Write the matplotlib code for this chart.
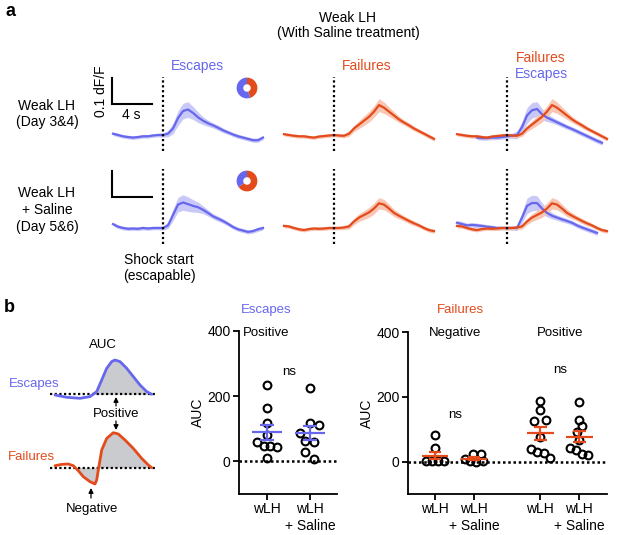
import matplotlib
matplotlib.use("Agg")
import matplotlib.pyplot as plt
import numpy as np

W, H = 617, 535
BLUE = "#6767EE"
BLUE_FILL = "#C9C9F8"
ORANGE = "#E34B1C"
ORANGE_FILL = "#F8C6B2"
GRAY = "#C9CBCE"

# ---- panel a: mean dF/F traces (time in s relative to shock start)
TIME = np.arange(-5, 10.5, 0.5)
nan = np.nan

esc_d34 = [0.005, 0.0, -0.005, -0.008, -0.01, -0.008, -0.005, -0.005, -0.002, 0.0,
           0.0, 0.005, 0.025, 0.065, 0.092, 0.098, 0.085, 0.068, 0.055, 0.045,
           0.037, 0.028, 0.018, 0.01, 0.002, -0.005, -0.01, -0.015, -0.02, -0.02, -0.01]
esc_d34_sem = [0.007, 0.007, 0.007, 0.007, 0.007, 0.007, 0.007, 0.007, 0.007, 0.007,
               0.008, 0.012, 0.02, 0.028, 0.03, 0.03, 0.025, 0.02, 0.015, 0.012,
               0.01, 0.01, 0.009, 0.008, 0.008, 0.008, 0.008, 0.008, 0.008, 0.008, 0.008]
fail_d34 = [0.003, 0.0, -0.003, -0.005, -0.005, -0.008, -0.01, -0.006, -0.004, -0.002,
            0.0, -0.002, -0.003, 0.005, 0.025, 0.04, 0.055, 0.07, 0.09, 0.115,
            0.105, 0.09, 0.075, 0.06, 0.048, 0.037, 0.025, 0.015, 0.005, -0.005, -0.015]
fail_d34_sem = [0.007, 0.007, 0.007, 0.007, 0.007, 0.007, 0.007, 0.007, 0.007, 0.007,
                0.007, 0.007, 0.008, 0.01, 0.012, 0.015, 0.018, 0.02, 0.022, 0.025,
                0.022, 0.018, 0.015, 0.012, 0.01, 0.01, 0.009, 0.008, 0.008, 0.008, 0.008]
esc_d34_overlay = [nan, nan, nan, nan, -0.01, -0.012, -0.012, -0.01, -0.01, -0.008,
                   -0.005, -0.003, 0.0, 0.03, 0.075, 0.095, 0.1, 0.08, 0.067, 0.058,
                   0.049, 0.04, 0.031, 0.023, 0.014, 0.005, -0.004, -0.013, -0.022, -0.03, nan]
esc_d34_overlay_sem = [nan, nan, nan, nan, 0.008, 0.008, 0.008, 0.008, 0.008, 0.008,
                       0.008, 0.01, 0.015, 0.022, 0.03, 0.03, 0.028, 0.022, 0.015, 0.012,
                       0.01, 0.01, 0.009, 0.009, 0.009, 0.009, 0.009, 0.009, 0.009, 0.009, nan]

esc_d56 = [0.015, 0.005, 0.0, -0.003, -0.002, -0.003, 0.0, -0.002, 0.0, 0.0,
           0.0, 0.01, 0.05, 0.09, 0.098, 0.092, 0.085, 0.08, 0.07, 0.058,
           0.045, 0.036, 0.027, 0.016, 0.004, -0.005, -0.01, -0.015, -0.012, -0.005, 0.0]
esc_d56_sem = [0.007, 0.007, 0.007, 0.007, 0.007, 0.007, 0.007, 0.007, 0.007, 0.007,
               0.008, 0.012, 0.022, 0.028, 0.03, 0.028, 0.024, 0.02, 0.015, 0.012,
               0.01, 0.01, 0.009, 0.008, 0.008, 0.008, 0.008, 0.008, 0.008, 0.008, 0.008]
fail_d56 = [0.008, 0.006, 0.0, -0.005, -0.008, -0.004, -0.002, -0.003, -0.002, 0.0,
            0.0, 0.0, 0.002, 0.006, 0.025, 0.04, 0.05, 0.06, 0.075, 0.095,
            0.09, 0.075, 0.058, 0.047, 0.037, 0.027, 0.018, 0.01, 0.0, -0.008, -0.012]
fail_d56_sem = [0.007, 0.007, 0.007, 0.007, 0.007, 0.007, 0.007, 0.007, 0.007, 0.007,
                0.007, 0.007, 0.008, 0.01, 0.012, 0.015, 0.017, 0.019, 0.021, 0.022,
                0.02, 0.017, 0.014, 0.012, 0.01, 0.01, 0.009, 0.008, 0.008, 0.008, 0.008]
esc_d56_overlay = [0.02, 0.015, 0.01, 0.012, 0.01, 0.008, 0.005, 0.003, 0.0, 0.0,
                   0.0, 0.0, 0.0, 0.04, 0.085, 0.096, 0.096, 0.075, 0.058, 0.047,
                   0.04, 0.033, 0.027, 0.02, 0.01, 0.002, -0.005, -0.012, -0.019, nan, nan]
esc_d56_overlay_sem = [0.01, 0.01, 0.009, 0.009, 0.009, 0.008, 0.008, 0.008, 0.008, 0.008,
                       0.008, 0.008, 0.01, 0.02, 0.03, 0.03, 0.028, 0.022, 0.015, 0.012,
                       0.01, 0.01, 0.009, 0.009, 0.009, 0.009, 0.009, 0.009, 0.009, nan, nan]

# fraction of trials [failures, escapes]
trial_split_d34 = [0.45, 0.55]
trial_split_d56 = [0.65, 0.35]

# ---- panel b: schematic AUC curves
sketch_t_esc = [0, 1.17, 2.5, 3.5, 4.17, 4.67, 5.17, 5.67, 6.0, 6.5, 7.17, 7.83, 8.5, 9.17, 9.67]
sketch_esc = [-0.07, -0.3, -0.4, -0.23, 0.27, 1.43, 2.6, 3.27, 3.43, 3.27, 2.6, 1.77, 0.93, 0.27, 0.0]
sketch_t_fail = [0, 0.67, 1.33, 1.83, 2.33, 2.83, 3.5, 4.0, 4.17, 4.33, 4.67, 5.17, 5.83,
                 6.33, 7.0, 7.83, 8.67, 9.33, 9.67]
sketch_fail = [0.2, 0.33, 0.37, 0.2, -0.3, -0.9, -1.4, -1.63, -1.23, -0.23, 1.77, 2.93, 3.5,
               3.37, 2.77, 1.93, 0.93, 0.27, 0.0]

# ---- panel b: AUC per animal
group_labels = ["wLH", "wLH\n+ Saline"]
esc_wlh = [233, 163, 118, 80, 59, 46, 46, 44, 11]
esc_wlh_dx = [0, 0, 0, 0, -0.23, -0.08, 0.08, 0.23, 0]
esc_sal = [225, 118, 112, 88, 62, 58, 29, 8]
esc_sal_dx = [0, 0, 0.22, -0.22, -0.12, 0.1, -0.12, 0.1]
esc_mean = [90, 88]
esc_sem = [23, 21]

neg_wlh = [83, 42, 3, 2, 3, 2]
neg_wlh_dx = [0, 0, -0.24, -0.08, 0.08, 0.24]
neg_sal = [8, 23, 23, 1, 0, 1]
neg_sal_dx = [-0.22, -0.03, 0.17, -0.11, 0.06, 0.23]
neg_mean = [18, 9]
neg_sem = [11, 5]

pos_wlh = [187, 158, 125, 128, 77, 38, 31, 26, 10]
pos_wlh_dx = [0, 0, -0.15, 0.15, 0, -0.24, -0.09, 0.09, 0.24]
pos_sal = [184, 128, 109, 92, 66, 41, 36, 23, 20]
pos_sal_dx = [0, 0, 0.06, -0.07, 0, -0.24, -0.09, 0.06, 0.23]
pos_mean = [87, 77]
pos_sem = [20, 18]


def box(left, top, right, bottom):
    return [left / W, 1 - bottom / H, (right - left) / W, (bottom - top) / H]


def put(fig, x, y, s, **kw):
    kw.setdefault("fontsize", 10)
    fig.text(x / W, 1 - y / H, s, ha="center", va="center", **kw)


def arrow(fig, x, y_from, y_to):
    fig.add_artist(matplotlib.patches.FancyArrowPatch(
        (x / W, 1 - y_from / H), (x / W, 1 - y_to / H), transform=fig.transFigure,
        arrowstyle="-|>", mutation_scale=7, lw=0.9, color="k", shrinkA=0, shrinkB=0))


def trace(ax, mean, sem, color, fill):
    m = np.array(mean)
    s = np.array(sem)
    ax.fill_between(TIME, m - s, m + s, color=fill, lw=0)
    ax.plot(TIME, m, color=color, lw=1.6)


def dots(ax, pos, values, dx, mean, sem, color):
    ax.plot(pos + np.array(dx), values, "o", mfc="none", mec="k", ms=5.6, mew=1.5, zorder=3)
    ax.hlines(mean, pos - 0.34, pos + 0.34, color=color, lw=1.6, zorder=4)
    ax.vlines(pos, mean - sem, mean + sem, color=color, lw=1.6, zorder=4)
    ax.hlines([mean - sem, mean + sem], pos - 0.16, pos + 0.16, color=color, lw=1.6, zorder=4)


def auc_axes(fig, rect, xlim):
    ax = fig.add_axes(rect)
    ax.set_xlim(*xlim)
    ax.set_ylim(-100, 400)
    ax.spines[["top", "right"]].set_visible(False)
    ax.spines[["left", "bottom"]].set_linewidth(1.3)
    ax.set_yticks([0, 200, 400])
    ax.tick_params(length=4, width=1.3, labelsize=10, pad=2)
    ax.axhline(0, color="k", ls=(0, (1, 1.1)), lw=1.8, zorder=2)
    ax.set_ylabel("AUC", fontsize=10, labelpad=2)
    return ax


def main():
    plt.rcParams["font.family"] = ["Liberation Sans", "DejaVu Sans"]
    fig = plt.figure(figsize=(W / 100, H / 100), dpi=100)

    # ---------------- panel a
    put(fig, 10, 12, "a", fontsize=13, fontweight="bold")
    put(fig, 348, 18, "Weak LH")
    put(fig, 348, 33, "(With Saline treatment)")
    put(fig, 47, 114, "Weak LH\n(Day 3&4)", linespacing=1.25)
    put(fig, 47, 210, "Weak LH\n+ Saline\n(Day 5&6)", linespacing=1.25)
    put(fig, 159, 268, "Shock start\n(escapable)", linespacing=1.25)
    put(fig, 197, 66, "Escapes", color=BLUE)
    put(fig, 367, 66, "Failures", color=ORANGE)
    put(fig, 541, 58, "Failures", color=ORANGE)
    put(fig, 541, 74, "Escapes", color=BLUE)
    put(fig, 101, 91, "0.1 dF/F", rotation=90)
    put(fig, 131, 115, "4 s")

    shock_x = [163, 334, 507]
    baselines = [135, 228]
    rows = [
        (esc_d34, esc_d34_sem, fail_d34, fail_d34_sem, esc_d34_overlay, esc_d34_overlay_sem, trial_split_d34),
        (esc_d56, esc_d56_sem, fail_d56, fail_d56_sem, esc_d56_overlay, esc_d56_overlay_sem, trial_split_d56),
    ]
    for base, (esc, esc_s, fail, fail_s, over, over_s, split) in zip(baselines, rows):
        axes = []
        for sx in shock_x:
            ax = fig.add_axes(box(sx - 55, base - 0.225 * 260, sx + 105, base + 0.06 * 260))
            ax.set_xlim(-5.5, 10.5)
            ax.set_ylim(-0.06, 0.225)
            ax.axis("off")
            ax.axvline(0, color="k", ls=(0, (1, 1.2)), lw=1.6, zorder=5)
            axes.append(ax)
        trace(axes[0], esc, esc_s, BLUE, BLUE_FILL)
        trace(axes[1], fail, fail_s, ORANGE, ORANGE_FILL)
        trace(axes[2], over, over_s, BLUE, BLUE_FILL)
        trace(axes[2], fail, fail_s, ORANGE, ORANGE_FILL)
        # scale bar: 4 s x 0.1 dF/F
        axes[0].plot([-5.1, -5.1, -1.1], [0.22, 0.12, 0.12], color="k", lw=1.5,
                     clip_on=False, solid_joinstyle="miter")
        pie_ax = fig.add_axes(box(234, base - 60, 260, base - 34))
        pie_ax.pie(split, colors=[ORANGE, BLUE], startangle=90, counterclock=False,
                   wedgeprops=dict(width=0.64, lw=0))
        pie_ax.set_aspect("equal")

    # ---------------- panel b
    put(fig, 9, 308, "b", fontsize=13, fontweight="bold")
    for base, t, y, color in [(394.3, sketch_t_esc, sketch_esc, BLUE),
                              (467.7, sketch_t_fail, sketch_fail, ORANGE)]:
        ax = fig.add_axes(box(45, base - 45, 165, base + 25))
        ax.set_xlim(-1, 11)
        ax.set_ylim(-2.5, 4.5)
        ax.axis("off")
        t = np.array(t)
        y = np.array(y)
        fill_mask = y > 0 if color == BLUE else t >= 1.83
        ax.fill_between(t, 0, y, where=fill_mask, interpolate=True, color=GRAY, lw=0)
        ax.hlines(0, -0.5, 10.2, color="k", ls=(0, (1, 1.1)), lw=1.6)
        ax.plot(t, y, color=color, lw=2, solid_capstyle="round", solid_joinstyle="round")
    put(fig, 103, 345, "AUC", fontsize=9.5)
    put(fig, 34, 384, "Escapes", fontsize=9.5, color=BLUE)
    put(fig, 31, 457, "Failures", fontsize=9.5, color=ORANGE)
    put(fig, 116, 414, "Positive", fontsize=9.5)
    put(fig, 92, 509, "Negative", fontsize=9.5)
    arrow(fig, 116, 406, 397)
    arrow(fig, 116, 421, 430)
    arrow(fig, 91, 498, 488)

    ax = auc_axes(fig, box(239, 331, 337, 494), (-0.65, 1.63))
    ax.set_xticks([0, 1], labels=group_labels)
    dots(ax, 0, esc_wlh, esc_wlh_dx, esc_mean[0], esc_sem[0], BLUE)
    dots(ax, 1, esc_sal, esc_sal_dx, esc_mean[1], esc_sem[1], BLUE)
    put(fig, 266, 310, "Escapes", fontsize=9.5, color=BLUE)
    put(fig, 266, 333, "Positive", fontsize=9.5)
    put(fig, 289, 372, "ns", fontsize=9.5)

    ax = auc_axes(fig, box(408, 332, 607, 494), (-0.69, 4.41))
    ax.set_xticks([0, 1, 2.7, 3.7], labels=group_labels * 2)
    dots(ax, 0, neg_wlh, neg_wlh_dx, neg_mean[0], neg_sem[0], ORANGE)
    dots(ax, 1, neg_sal, neg_sal_dx, neg_mean[1], neg_sem[1], ORANGE)
    dots(ax, 2.7, pos_wlh, pos_wlh_dx, pos_mean[0], pos_sem[0], ORANGE)
    dots(ax, 3.7, pos_sal, pos_sal_dx, pos_mean[1], pos_sem[1], ORANGE)
    put(fig, 460, 310, "Failures", fontsize=9.5, color=ORANGE)
    put(fig, 455, 333, "Negative", fontsize=9.5)
    put(fig, 560, 333, "Positive", fontsize=9.5)
    put(fig, 455, 415, "ns", fontsize=9.5)
    put(fig, 560, 370, "ns", fontsize=9.5)

    fig.savefig("out.png", dpi=100)
    plt.close(fig)


if __name__ == "__main__":
    main()
